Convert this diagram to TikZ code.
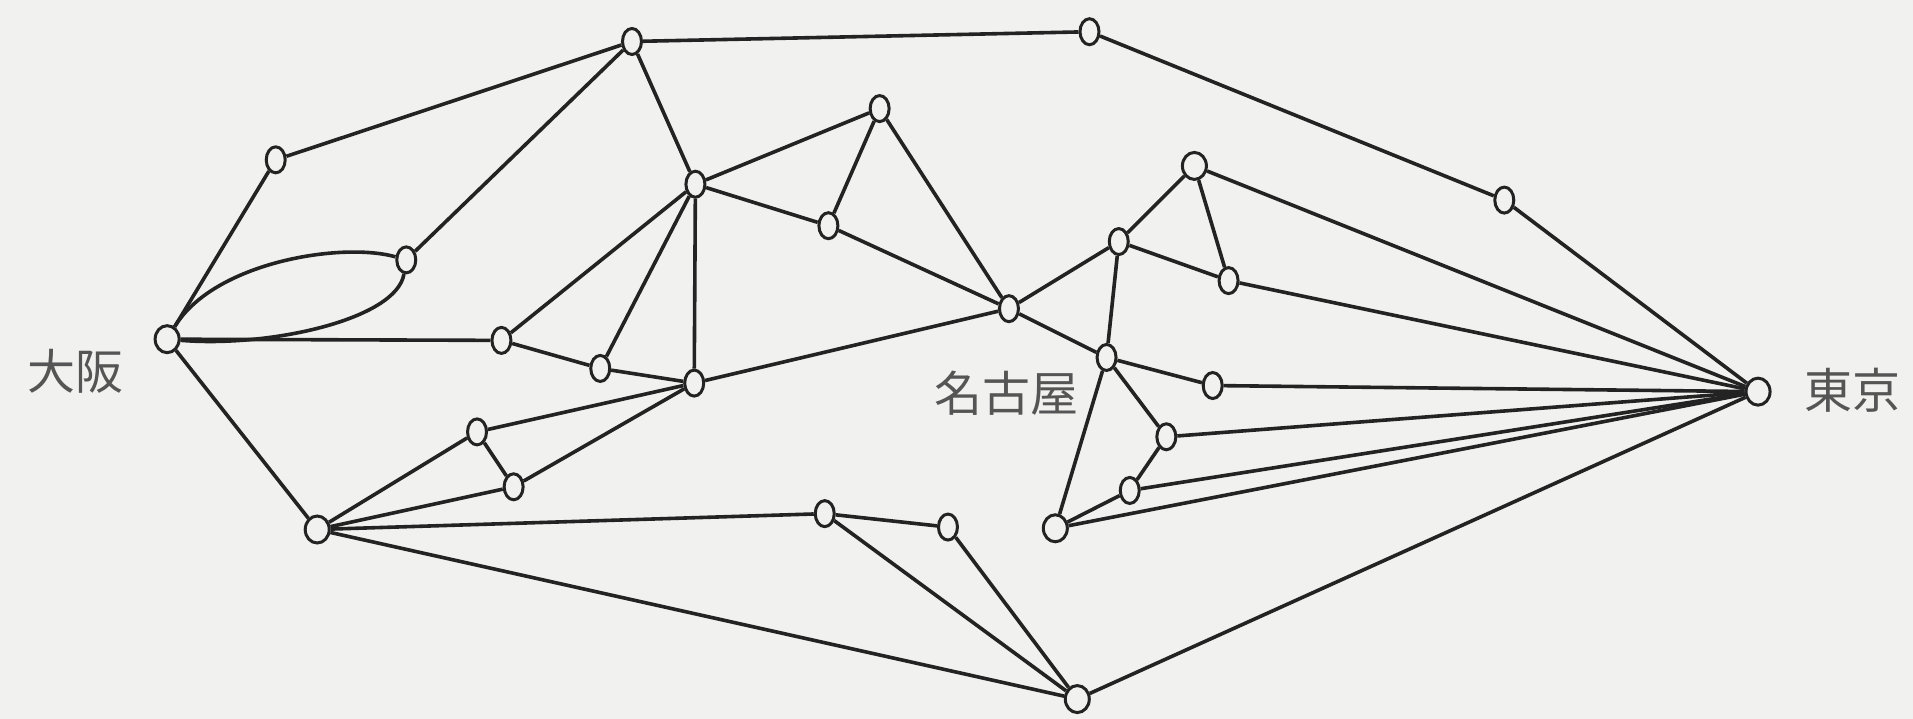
\documentclass[tikz,border=0pt]{standalone}
\usepackage{fontspec}
\newfontfamily\cjk{Noto Sans CJK JP}
\usetikzlibrary{shapes.geometric}
\definecolor{bg}{RGB}{241,241,240}
\definecolor{ink}{RGB}{35,35,35}
\definecolor{lbl}{RGB}{85,85,85}
\tikzset{
  v/.style={ellipse, draw=ink, fill=bg, line width=3pt, inner sep=0pt, minimum width=19pt, minimum height=26pt},
  vr/.style={v, minimum width=24pt, minimum height=27pt},
  e/.style={draw=ink, line width=3.6pt},
  lab/.style={font=\cjk\fontsize{48}{52}\selectfont, text=lbl, inner sep=0pt}
}
\begin{document}
\begin{tikzpicture}[x=1.22pt,y=-1.22pt]
\fill[bg] (0,0) rectangle (1568,589);
\useasboundingbox (0,0) rectangle (1568,589);
% nodes
\node[vr] (O) at (137,278) {};
\node[v] (A) at (226,131) {};
\node[v] (B) at (333,213) {};
\node[v] (T1) at (518,34) {};
\node[v] (T2) at (893,26) {};
\node[v] (C) at (411,279) {};
\node[v] (D) at (492,302) {};
\node[v] (E) at (570,151) {};
\node[v] (F) at (569,314) {};
\node[v] (G) at (391,354) {};
\node[v] (H) at (421,399) {};
\node[vr] (L) at (260,434) {};
\node[v] (I) at (679,185) {};
\node[v] (J) at (721,89) {};
\node[v] (N) at (827,253) {};
\node[v] (K) at (676,421) {};
\node[v] (M) at (777,432) {};
\node[vr] (Bt) at (883,573) {};
\node[vr] (P) at (979,136) {};
\node[v] (Q) at (917,198) {};
\node[v] (R) at (1007,230) {};
\node[v] (S) at (907,293) {};
\node[v] (U) at (994,316) {};
\node[v] (V) at (956,358) {};
\node[v] (W) at (926,402) {};
\node[vr] (X) at (865,433) {};
\node[v] (Y) at (1233,164) {};
\node[vr] (Tk) at (1441,321) {};
% labels
\node[lab] (lO) at (62,304) {大阪};
\node[lab] (lN) at (825,322) {名古屋};
\node[lab] (lT) at (1518,320) {東京};
% edges
\draw[e] (O) -- (A);
\draw[e] (A) -- (T1);
\draw[e] (B) -- (T1);
\draw[e] (O) .. controls (175,215) and (280,198) .. (B);
\draw[e] (O) .. controls (220,285) and (325,262) .. (B);
\draw[e] (O) -- (C);
\draw[e] (O) -- (L);
\draw[e] (T1) -- (T2);
\draw[e] (T2) -- (Y);
\draw[e] (Y) -- (Tk);
\draw[e] (T1) -- (E);
\draw[e] (E) -- (C);
\draw[e] (E) -- (D);
\draw[e] (E) -- (F);
\draw[e] (E) -- (J);
\draw[e] (E) -- (I);
\draw[e] (I) -- (J);
\draw[e] (I) -- (N);
\draw[e] (J) -- (N);
\draw[e] (C) -- (D);
\draw[e] (D) -- (F);
\draw[e] (F) -- (N);
\draw[e] (G) -- (F);
\draw[e] (G) -- (H);
\draw[e] (L) -- (G);
\draw[e] (L) -- (H);
\draw[e] (H) -- (F);
\draw[e] (L) -- (K);
\draw[e] (K) -- (M);
\draw[e] (K) -- (Bt);
\draw[e] (M) -- (Bt);
\draw[e] (L) -- (Bt);
\draw[e] (Bt) -- (Tk);
\draw[e] (N) -- (Q);
\draw[e] (N) -- (S);
\draw[e] (Q) -- (P);
\draw[e] (Q) -- (R);
\draw[e] (P) -- (R);
\draw[e] (P) -- (Tk);
\draw[e] (R) -- (Tk);
\draw[e] (Q) -- (S);
\draw[e] (S) -- (X);
\draw[e] (S) -- (U);
\draw[e] (S) -- (V);
\draw[e] (U) -- (Tk);
\draw[e] (V) -- (Tk);
\draw[e] (V) -- (W);
\draw[e] (W) -- (Tk);
\draw[e] (W) -- (X);
\draw[e] (X) -- (Tk);
\end{tikzpicture}
\end{document}
